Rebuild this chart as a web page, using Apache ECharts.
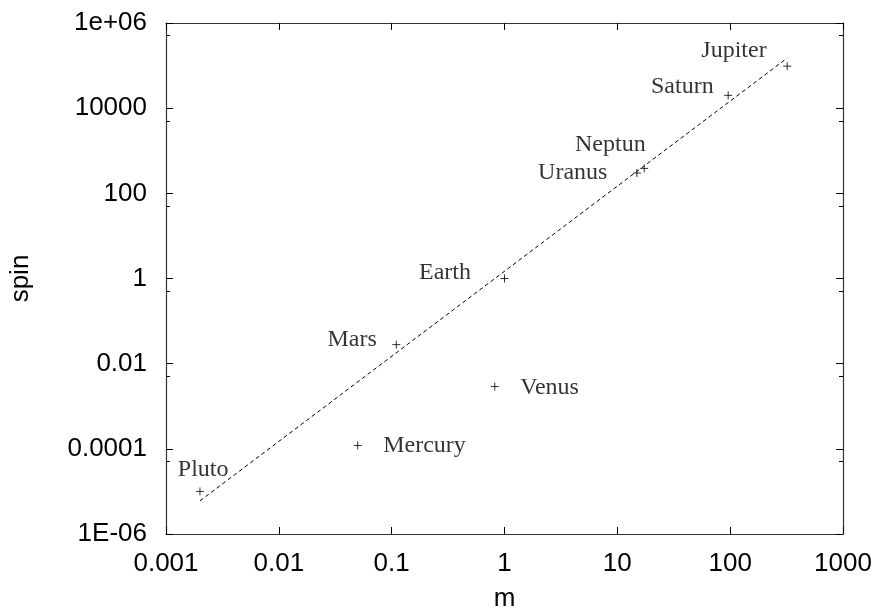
<!DOCTYPE html>
<html>
<head>
<meta charset="utf-8">
<script src="https://cdn.jsdelivr.net/npm/echarts@6/dist/echarts.min.js"></script>
<style>
  html, body { margin: 0; padding: 0; background: #fff; }
  #chart { width: 875px; height: 612px; }
</style>
</head>
<body>
<div id="chart"></div>
<script>
// planets: mass (earth = 1) vs spin
const planets = ['Mercury', 'Venus', 'Earth', 'Mars', 'Jupiter', 'Saturn', 'Uranus', 'Neptun', 'Pluto'];
const mass = [0.05, 0.82, 1.0, 0.11, 320, 96, 14.9, 17.3, 0.002];
const spin = [1.2e-4, 0.0029, 1.0, 0.028, 9.7e4, 2.0e4, 300, 385, 1.0e-5];

// fitted line, end points
const fitMass = [0.002, 320];
const fitSpin = [6e-6, 1.5e5];

const xTickValues = [0.001, 0.01, 0.1, 1, 10, 100, 1000];
const xTickLabels = ['0.001', '0.01', '0.1', '1', '10', '100', '1000'];
const yTickValues = [1e-6, 1e-4, 0.01, 1, 100, 1e4, 1e6];
const yTickLabels = ['1E-06', '0.0001', '0.01', '1', '100', '10000', '1e+06'];

// where each name sits relative to its marker
const labelPlace = {
    Mercury: {side: 'right', dx: 23, dy: 0},
    Venus: {side: 'right', dx: 23, dy: 1},
    Earth: {side: 'left', dx: -31, dy: -6},
    Mars: {side: 'left', dx: -17, dy: -5},
    Jupiter: {side: 'left', dx: -18, dy: -15},
    Saturn: {side: 'left', dx: -12, dy: -9},
    Uranus: {side: 'left', dx: -27, dy: 0},
    Neptun: {side: 'left', dx: 4, dy: -24},
    Pluto: {side: 'left', dx: 31, dy: -22}
};

const SYM = 8;
const frame = {show: true, lineStyle: {color: '#333', width: 1.2}};
const tickLabel = (values, labels) => (v) => {
    const i = values.findIndex(t => Math.abs(Math.log10(t) - Math.log10(v)) < 1e-6);
    return i < 0 ? '' : labels[i];
};

const makeX = (pos, withLabels) => ({
    type: 'log', logBase: 10, min: 0.001, max: 1000, interval: 1,
    position: pos,
    name: withLabels ? 'm' : '',
    nameLocation: 'middle', nameGap: 52,
    nameTextStyle: {fontFamily: 'Liberation Sans', fontSize: 26, color: '#000'},
    axisLine: frame,
    axisTick: {show: true, inside: true, length: 7, lineStyle: {color: '#000', width: 1}},
    minorTick: {show: false},
    splitLine: {show: false},
    axisLabel: {
        show: withLabels, margin: 17, fontFamily: 'Liberation Sans', fontSize: 26, color: '#000',
        formatter: tickLabel(xTickValues, xTickLabels)
    }
});

const makeY = (pos, withLabels) => ({
    type: 'log', logBase: 10, min: 1e-6, max: 1e6, interval: 2,
    position: pos,
    name: withLabels ? 'spin' : '',
    nameLocation: 'middle', nameGap: 132, nameRotate: 90,
    nameTextStyle: {fontFamily: 'Liberation Sans', fontSize: 26, color: '#000'},
    axisLine: frame,
    axisTick: {show: true, inside: true, length: 7, lineStyle: {color: '#000', width: 1}},
    minorTick: {show: true, splitNumber: 2, length: 4, lineStyle: {color: '#000', width: 1}},
    splitLine: {show: false},
    minorSplitLine: {show: false},
    axisLabel: {
        show: withLabels, margin: 19, fontFamily: 'Liberation Sans', fontSize: 26, color: '#000',
        formatter: tickLabel(yTickValues, yTickLabels)
    }
});

const points = planets.map((name, i) => {
    const p = labelPlace[name];
    return {
        name: name,
        value: [mass[i], spin[i]],
        label: {
            position: p.side,
            distance: 0,
            offset: [p.side === 'left' ? p.dx + SYM / 2 : p.dx - SYM / 2, p.dy]
        }
    };
});

const chart = echarts.init(document.getElementById('chart'), null, {renderer: 'canvas'});
chart.setOption({
    animation: false,
    backgroundColor: '#fff',
    grid: {left: 166, right: 32, top: 23, bottom: 78, containLabel: false, outerBoundsMode: 'none'},
    xAxis: [makeX('bottom', true), makeX('top', false)],
    yAxis: [makeY('left', true), makeY('right', false)],
    series: [
        {
            type: 'line',
            data: fitMass.map((m, i) => [m, fitSpin[i]]),
            showSymbol: false,
            symbol: 'none',
            lineStyle: {color: '#000', width: 1, type: [4, 3]},
            silent: true,
            z: 2
        },
        {
            type: 'scatter',
            data: points,
            symbol: 'path://M0,5L10,5M5,0L5,10',
            symbolSize: SYM,
            itemStyle: {color: 'none', borderColor: '#000', borderWidth: 1},
            label: {
                show: true,
                formatter: '{b}',
                fontFamily: 'Liberation Serif',
                fontSize: 24,
                color: '#000'
            },
            z: 3
        }
    ]
});
</script>
</body>
</html>
